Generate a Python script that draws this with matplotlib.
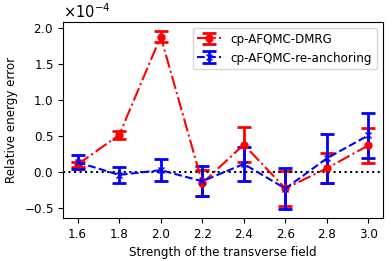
import matplotlib
matplotlib.use('Agg')
import matplotlib.pyplot as plt
import numpy as np

plt.rcParams['font.size'] = 8.6

# transverse field strengths
field = [1.6, 1.8, 2.0, 2.2, 2.4, 2.6, 2.8, 3.0]

# relative energy error, in units of 1e-4
dmrg = [0.10, 0.51, 1.88, -0.16, 0.375, -0.235, 0.046, 0.366]
dmrg_err = [0.04, 0.05, 0.08, 0.18, 0.24, 0.24, 0.21, 0.24]
reanchor = [0.13, -0.046, 0.02, -0.134, 0.106, -0.236, 0.185, 0.505]
reanchor_err = [0.10, 0.11, 0.155, 0.21, 0.235, 0.285, 0.34, 0.31]

scale = 1e-4

fig = plt.figure(figsize=(3.92, 2.61), dpi=100)
ax = fig.add_axes([0.161, 0.165, 0.816, 0.751])

ax.errorbar(field, np.array(dmrg) * scale, yerr=np.array(dmrg_err) * scale,
            fmt='o-.', color='red', markersize=5, capsize=5, capthick=2,
            elinewidth=2, linewidth=1.5, label='cp-AFQMC-DMRG')
ax.errorbar(field, np.array(reanchor) * scale, yerr=np.array(reanchor_err) * scale,
            fmt='x--', color='blue', markersize=5, capsize=5, capthick=2,
            elinewidth=2, linewidth=1.5, label='cp-AFQMC-re-anchoring')
ax.axhline(0, color='black', linestyle=':', linewidth=1.5)

ax.set_xticks(field)
ax.ticklabel_format(axis='y', style='sci', scilimits=(0, 0), useMathText=True)
ax.yaxis.get_offset_text().set_fontsize(10.5)
ax.set_xlabel('Strength of the transverse field')
ax.set_ylabel('Relative energy error')
ax.legend(loc='upper right')

fig.savefig('out.png', dpi=100)
